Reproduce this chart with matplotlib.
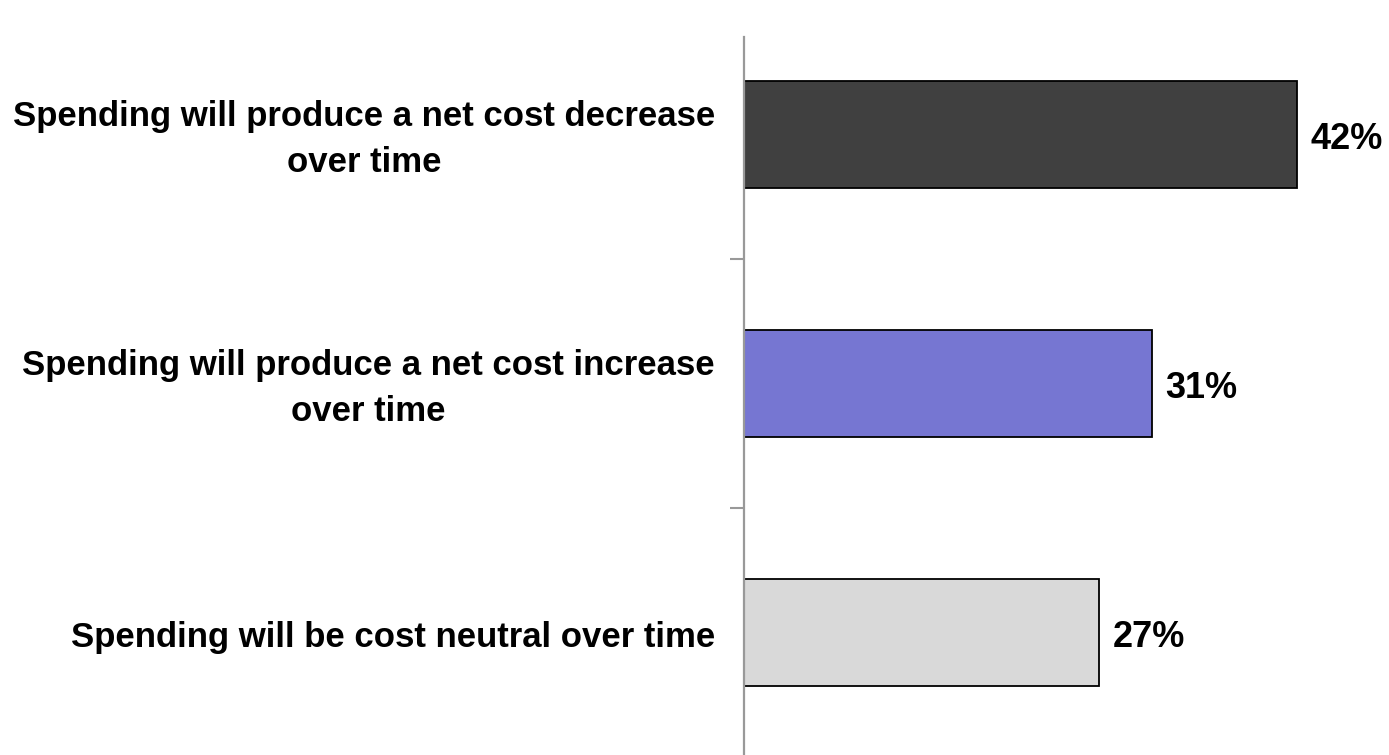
import matplotlib.pyplot as plt
import matplotlib.transforms as mtransforms
import numpy as np

categories = [
    'Spending will produce a net cost decrease\nover time',
    'Spending will produce a net cost increase\nover time',
    'Spending will be cost neutral over time',
]
values = [42, 31, 27]
colors = ['#404040', '#7676D2', '#D9D9D9']

plt.rcParams['font.family'] = ['Liberation Sans', 'DejaVu Sans']

fig = plt.figure(figsize=(13.89, 7.55), dpi=100)
ax = fig.add_axes([744 / 1389, 0.0, 1 - 744 / 1389, 1 - 37 / 755])

y = np.arange(len(categories))
ax.barh(y, values, height=0.43, color=colors, edgecolor='black', linewidth=1.3)

for yi, v in zip(y, values):
    ax.text(v + 1.0, yi + 0.02, f'{v}%', va='center', ha='left',
            fontsize=26, fontweight='bold')

ax.set_xlim(0, 49)
ax.set_ylim(2.49, -0.39)

# category labels sit left of the axis, right-aligned, lines centred
lab_trans = mtransforms.blended_transform_factory(ax.transAxes, ax.transData)
for yi, cat in zip(y, categories):
    ax.text(-0.045, yi + 0.02, cat, transform=lab_trans, ha='right',
            va='center', multialignment='center', linespacing=1.5,
            fontsize=25, fontweight='bold')

ax.set_yticks([0.5, 1.5])
ax.set_yticklabels([])
ax.tick_params(axis='y', length=10, width=1.5, color='#999999')
ax.set_xticks([])

for side in ['top', 'right', 'bottom']:
    ax.spines[side].set_visible(False)
ax.spines['left'].set_color('#999999')
ax.spines['left'].set_linewidth(1.6)

fig.savefig('out.png', dpi=100)
